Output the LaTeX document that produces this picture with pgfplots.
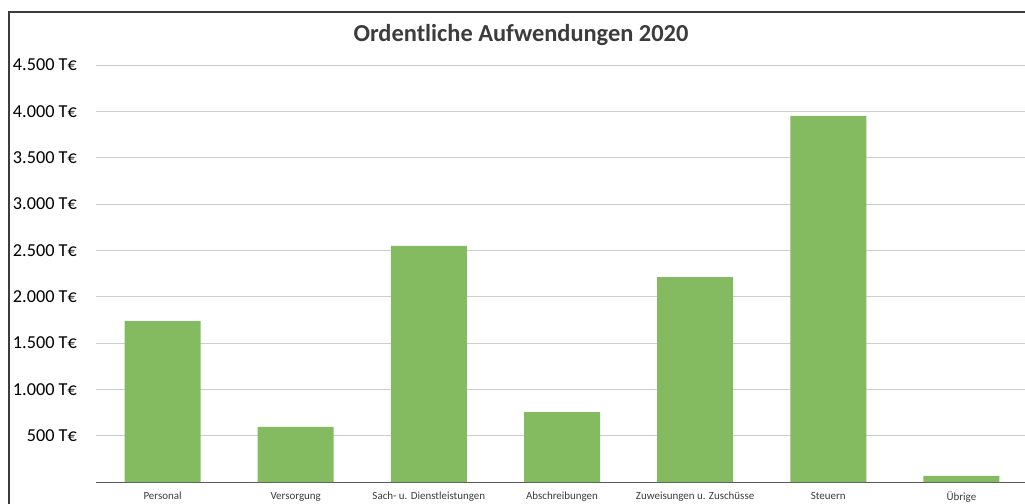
\documentclass[border=0pt]{standalone}
\usepackage{fontspec}
\setmainfont{Carlito}
\usepackage{pgfplots}
\pgfplotsset{compat=1.18}
\definecolor{barGreen}{RGB}{132,186,96}
\definecolor{gridGray}{RGB}{205,205,205}
\definecolor{axisGray}{RGB}{89,89,89}
\definecolor{titleGray}{RGB}{60,60,60}
\definecolor{frameGray}{RGB}{60,60,60}
\begin{document}
\begin{tikzpicture}
\useasboundingbox (0bp,0bp) rectangle (1025bp,504bp);
\clip (0bp,0bp) rectangle (1025bp,504bp);
\begin{pgfinterruptboundingbox}
\fill[white] (0bp,0bp) rectangle (1025bp,504bp);
\draw[frameGray, line width=1.2bp] (9bp,-5bp) -- (9bp,492bp) -- (1030bp,492bp);
\node[anchor=base, inner sep=0pt, font=\bfseries\fontsize{24.5}{28}\selectfont, text=titleGray] at (521bp,462bp) {Ordentliche Aufwendungen 2020};
\begin{axis}[
  at={(96bp,22bp)}, anchor=south west,
  scale only axis,
  width=932bp, height=417bp,
  xmin=-0.5, xmax=6.5,
  ymin=0, ymax=4500,
  axis x line=bottom, axis y line=left,
  x axis line style={-, draw=axisGray, line width=1bp},
  y axis line style={draw=none},
  major tick length=0pt,
  ymajorgrids, grid style={gridGray, line width=0.8bp},
  ytick={500,1000,1500,2000,2500,3000,3500,4000,4500},
  yticklabels={500 T€,1.000 T€,1.500 T€,2.000 T€,2.500 T€,3.000 T€,3.500 T€,4.000 T€,4.500 T€},
  yticklabel style={font=\fontsize{18.3}{20}\selectfont, text=black, inner sep=0pt, xshift=-19bp},
  xtick={0,1,2,3,4,5,6},
  xticklabels={Personal,Versorgung,Sach- u. Dienstleistungen,Abschreibungen,Zuweisungen u. Zuschüsse,Steuern,Übrige},
  xticklabel style={font=\fontsize{11}{13}\selectfont, text=titleGray, inner sep=0pt, yshift=-10bp},
  clip=false,
]
\addplot[ybar, bar width=76bp, fill=barGreen, draw=none] coordinates {
(0,1737) (1,594) (2,2547) (3,755) (4,2212) (5,3950) (6,65)
};
\end{axis}
\end{pgfinterruptboundingbox}
\end{tikzpicture}
\end{document}
